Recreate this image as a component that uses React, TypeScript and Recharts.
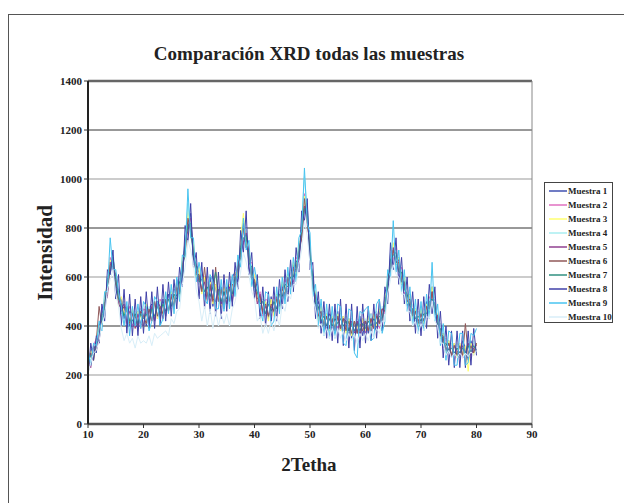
import { LineChart, Line, XAxis, YAxis, ReferenceLine } from 'recharts';

// ángulos 2θ (paso 0.5)
const angles = [
  10, 10.5, 11, 11.5, 12, 12.5, 13, 13.5, 14, 14.5,
  15, 15.5, 16, 16.5, 17, 17.5, 18, 18.5, 19, 19.5,
  20, 20.5, 21, 21.5, 22, 22.5, 23, 23.5, 24, 24.5,
  25, 25.5, 26, 26.5, 27, 27.5, 28, 28.5, 29, 29.5,
  30, 30.5, 31, 31.5, 32, 32.5, 33, 33.5, 34, 34.5,
  35, 35.5, 36, 36.5, 37, 37.5, 38, 38.5, 39, 39.5,
  40, 40.5, 41, 41.5, 42, 42.5, 43, 43.5, 44, 44.5,
  45, 45.5, 46, 46.5, 47, 47.5, 48, 48.5, 49, 49.5,
  50, 50.5, 51, 51.5, 52, 52.5, 53, 53.5, 54, 54.5,
  55, 55.5, 56, 56.5, 57, 57.5, 58, 58.5, 59, 59.5,
  60, 60.5, 61, 61.5, 62, 62.5, 63, 63.5, 64, 64.5,
  65, 65.5, 66, 66.5, 67, 67.5, 68, 68.5, 69, 69.5,
  70, 70.5, 71, 71.5, 72, 72.5, 73, 73.5, 74, 74.5,
  75, 75.5, 76, 76.5, 77, 77.5, 78, 78.5, 79, 79.5,
  80,
];

const muestra1 = [
  230, 300, 310, 290, 400, 450, 440, 600, 610, 690,
  560, 490, 510, 430, 470, 400, 460, 410, 390, 470,
  450, 400, 470, 490, 420, 500, 430, 510, 440, 530,
  470, 550, 520, 600, 580, 770, 800, 860, 680, 650,
  620, 540, 590, 510, 600, 480, 570, 500, 560, 470,
  560, 500, 600, 620, 580, 740, 820, 720, 700, 600,
  540, 580, 460, 510, 500, 430, 520, 450, 530, 480,
  570, 510, 610, 560, 650, 600, 720, 760, 880, 900,
  660, 610, 470, 500, 410, 460, 380, 450, 430, 380,
  460, 380, 440, 390, 430, 350, 420, 370, 440, 360,
  420, 370, 450, 400, 380, 460, 420, 520, 530, 690,
  720, 650, 680, 570, 590, 480, 530, 440, 470, 400,
  460, 410, 500, 450, 560, 450, 440, 350, 370, 290,
  340, 270, 330, 290, 270, 340, 310, 260, 340, 290,
  330,
];
const muestra2 = [
  260, 240, 320, 350, 330, 470, 500, 540, 680, 620,
  610, 540, 450, 500, 420, 480, 400, 450, 460, 390,
  470, 460, 400, 480, 500, 430, 510, 450, 520, 460,
  540, 480, 570, 530, 660, 690, 860, 780, 720, 600,
  570, 610, 520, 580, 500, 570, 490, 560, 480, 560,
  490, 570, 510, 560, 660, 680, 740, 790, 650, 660,
  600, 500, 540, 440, 510, 500, 440, 520, 460, 550,
  500, 590, 540, 620, 580, 680, 660, 820, 940, 810,
  740, 550, 530, 430, 480, 390, 450, 440, 370, 450,
  390, 450, 370, 440, 380, 430, 360, 420, 350, 430,
  370, 440, 380, 450, 460, 390, 470, 450, 590, 630,
  680, 720, 610, 640, 530, 560, 460, 490, 420, 460,
  400, 470, 430, 520, 490, 510, 400, 410, 310, 350,
  290, 330, 260, 320, 330, 270, 280, 340, 270, 330,
  290,
];
const muestra3 = [
  230, 300, 260, 350, 400, 400, 520, 570, 670, 650,
  600, 480, 520, 450, 470, 410, 470, 390, 460, 440,
  390, 490, 420, 470, 500, 430, 500, 440, 530, 460,
  540, 480, 580, 520, 680, 680, 870, 760, 740, 600,
  640, 530, 600, 500, 580, 490, 570, 510, 480, 560,
  500, 570, 520, 620, 600, 760, 860, 730, 720, 590,
  610, 500, 520, 450, 500, 420, 510, 440, 530, 470,
  580, 520, 610, 560, 660, 610, 740, 760, 930, 830,
  720, 560, 540, 420, 480, 400, 450, 380, 440, 390,
  450, 380, 440, 370, 430, 360, 420, 400, 370, 430,
  380, 440, 380, 450, 400, 470, 420, 500, 590, 640,
  740, 650, 680, 570, 600, 490, 530, 430, 470, 400,
  470, 410, 490, 460, 560, 450, 450, 350, 370, 290,
  340, 280, 330, 270, 330, 280, 320, 215, 330, 280,
  330,
];
const muestra4 = [
  280, 260, 300, 340, 380, 430, 450, 600, 610, 710,
  560, 550, 450, 500, 420, 470, 410, 460, 400, 470,
  460, 410, 480, 420, 490, 440, 500, 420, 520, 470,
  470, 550, 500, 600, 590, 760, 900, 770, 690, 650,
  570, 600, 530, 580, 510, 570, 490, 560, 500, 540,
  550, 500, 580, 550, 660, 670, 800, 800, 650, 650,
  540, 560, 470, 510, 440, 500, 450, 510, 460, 550,
  500, 580, 540, 630, 590, 670, 670, 830, 1010, 880,
  680, 600, 470, 490, 420, 460, 390, 440, 380, 450,
  400, 450, 380, 440, 370, 430, 360, 430, 410, 380,
  430, 380, 450, 390, 460, 400, 480, 460, 540, 700,
  680, 710, 610, 630, 540, 560, 460, 490, 420, 460,
  410, 470, 440, 510, 500, 520, 400, 410, 320, 350,
  290, 330, 280, 330, 270, 320, 280, 340, 290, 340,
  290,
];
const muestra5 = [
  250, 230, 320, 300, 350, 450, 490, 520, 660, 640,
  610, 490, 470, 490, 410, 460, 450, 390, 450, 410,
  400, 470, 410, 480, 420, 500, 480, 430, 510, 460,
  530, 470, 590, 540, 640, 730, 790, 840, 680, 620,
  600, 550, 580, 500, 560, 510, 500, 550, 490, 540,
  490, 560, 500, 580, 650, 700, 740, 780, 700, 590,
  580, 490, 530, 450, 480, 440, 480, 460, 520, 480,
  560, 520, 600, 560, 640, 620, 690, 760, 890, 850,
  700, 570, 520, 440, 460, 400, 440, 390, 430, 380,
  440, 390, 430, 420, 380, 420, 370, 420, 360, 410,
  420, 380, 430, 390, 450, 410, 470, 460, 580, 650,
  720, 660, 670, 580, 580, 500, 510, 450, 460, 420,
  450, 420, 480, 470, 540, 460, 440, 360, 350, 300,
  330, 280, 320, 300, 280, 320, 290, 330, 280, 310,
  320,
];
const muestra6 = [
  240, 290, 260, 340, 480, 400, 500, 540, 650, 660,
  560, 550, 460, 480, 470, 410, 450, 440, 400, 460,
  440, 410, 470, 420, 500, 440, 480, 450, 510, 460,
  520, 480, 560, 530, 650, 690, 840, 790, 710, 610,
  610, 540, 640, 520, 570, 500, 640, 500, 550, 490,
  550, 500, 570, 560, 640, 680, 800, 720, 700, 600,
  590, 510, 520, 460, 490, 440, 490, 460, 510, 490,
  550, 530, 600, 570, 630, 630, 710, 760, 920, 830,
  720, 550, 520, 440, 460, 400, 440, 390, 430, 390,
  440, 390, 430, 380, 420, 370, 420, 370, 410, 380,
  420, 380, 430, 390, 440, 410, 470, 460, 580, 630,
  710, 660, 660, 580, 580, 500, 510, 440, 460, 410,
  450, 420, 480, 470, 540, 460, 440, 360, 360, 300,
  330, 280, 320, 280, 320, 280, 410, 285, 320, 290,
  330,
];
const muestra7 = [
  260, 280, 280, 330, 340, 450, 470, 590, 620, 680,
  590, 510, 490, 440, 480, 420, 420, 450, 410, 450,
  430, 450, 420, 470, 440, 480, 450, 490, 460, 510,
  480, 530, 510, 580, 600, 740, 810, 820, 680, 650,
  580, 590, 540, 560, 520, 560, 620, 530, 500, 540,
  510, 550, 530, 600, 600, 720, 760, 770, 660, 640,
  560, 540, 490, 500, 450, 490, 460, 500, 470, 530,
  520, 570, 560, 600, 600, 660, 680, 800, 880, 870,
  690, 600, 490, 480, 420, 440, 400, 430, 400, 430,
  410, 430, 400, 420, 380, 410, 380, 410, 380, 410,
  390, 420, 400, 430, 410, 440, 430, 490, 560, 670,
  690, 700, 620, 620, 550, 530, 480, 470, 430, 440,
  420, 450, 450, 500, 510, 490, 400, 390, 330, 330,
  300, 310, 290, 310, 290, 310, 290, 320, 290, 320,
  300,
];
const muestra8 = [
  190, 330, 260, 360, 330, 490, 420, 630, 610, 710,
  510, 610, 400, 550, 370, 530, 360, 510, 360, 520,
  370, 540, 390, 540, 390, 560, 400, 570, 420, 580,
  440, 590, 470, 640, 560, 810, 740, 900, 640, 700,
  510, 660, 470, 640, 450, 630, 440, 620, 430, 610,
  460, 620, 480, 660, 550, 790, 700, 870, 610, 700,
  510, 610, 430, 560, 400, 540, 410, 560, 420, 590,
  470, 630, 500, 670, 540, 720, 620, 870, 830, 920,
  630, 660, 430, 540, 370, 500, 350, 490, 340, 490,
  330, 510, 320, 490, 310, 490, 300, 480, 310, 490,
  330, 480, 340, 490, 350, 510, 380, 560, 490, 740,
  630, 760, 570, 680, 490, 600, 420, 540, 370, 510,
  360, 520, 390, 570, 450, 560, 350, 460, 270, 400,
  240, 380, 230, 380, 230, 380, 230, 380, 240, 390,
  280,
];
const muestra9 = [
  300, 240, 330, 320, 420, 380, 540, 540, 760, 630,
  630, 540, 480, 400, 500, 360, 480, 400, 490, 390,
  500, 480, 380, 420, 520, 500, 400, 430, 540, 450,
  570, 450, 600, 500, 690, 680, 960, 760, 760, 580,
  660, 600, 510, 490, 610, 580, 470, 470, 590, 460,
  590, 470, 610, 520, 690, 640, 840, 710, 750, 560,
  640, 570, 470, 420, 540, 530, 400, 420, 560, 450,
  600, 490, 640, 530, 680, 580, 760, 790, 1045, 820,
  780, 520, 570, 400, 510, 360, 490, 350, 480, 350,
  490, 480, 330, 320, 470, 460, 290, 270, 460, 450,
  470, 480, 340, 350, 490, 510, 370, 420, 630, 600,
  830, 620, 710, 540, 630, 460, 560, 400, 510, 370,
  500, 380, 530, 430, 660, 420, 490, 320, 410, 260,
  380, 370, 240, 240, 370, 370, 240, 250, 370, 360,
  390,
];
const muestra10 = [
  210, 250, 290, 300, 340, 410, 440, 550, 590, 630,
  530, 480, 390, 340, 370, 330, 350, 310, 360, 330,
  340, 330, 360, 320, 370, 350, 360, 370, 380, 360,
  430, 410, 460, 470, 570, 640, 750, 710, 650, 550,
  500, 420, 480, 400, 470, 390, 460, 400, 450, 410,
  450, 400, 470, 500, 560, 620, 700, 660, 610, 540,
  510, 420, 440, 370, 410, 370, 420, 380, 440, 400,
  490, 460, 530, 510, 570, 570, 650, 710, 830, 770,
  650, 510, 470, 390, 410, 360, 390, 350, 390, 350,
  390, 350, 380, 340, 370, 340, 370, 330, 370, 340,
  370, 340, 380, 350, 390, 370, 420, 420, 530, 590,
  650, 610, 600, 530, 530, 460, 460, 400, 420, 370,
  410, 380, 440, 430, 500, 420, 400, 330, 330, 280,
  300, 270, 290, 270, 290, 270, 290, 275, 295, 280,
  300,
];

const seriesNames = [
  'Muestra 1', 'Muestra 2', 'Muestra 3', 'Muestra 4', 'Muestra 5',
  'Muestra 6', 'Muestra 7', 'Muestra 8', 'Muestra 9', 'Muestra 10',
];
const seriesValues = [
  muestra1, muestra2, muestra3, muestra4, muestra5,
  muestra6, muestra7, muestra8, muestra9, muestra10,
];
const seriesColors = [
  '#4050b0', '#e070c0', '#ffff70', '#a8eef0', '#904090',
  '#905858', '#309080', '#4040a8', '#48c4f0', '#d8eef8',
];

const xTicks = [10, 20, 30, 40, 50, 60, 70, 80, 90];
const yTicks = [0, 200, 400, 600, 800, 1000, 1200, 1400];
const gridLevels = [200, 400, 600, 800, 1000, 1200];

const data = angles.map((x, i) => {
  const row: Record<string, number> = { x };
  seriesNames.forEach((n, s) => { row[n] = seriesValues[s][i]; });
  return row;
});

const FONT = '"Liberation Serif", "DejaVu Serif", serif';

function LegendBox() {
  return (
    <div style={{
      position: 'absolute', left: 544, top: 182,
      width: 69, height: 141, boxSizing: 'border-box', border: '1px solid #444',
      background: '#fff', paddingTop: 1, fontFamily: FONT,
    }}>
      {seriesNames.map((n, i) => (
        <div key={n} style={{ display: 'flex', alignItems: 'center', height: 14 }}>
          <svg width={18} height={4} style={{ marginLeft: 4 }}>
            <line x1={0} y1={2} x2={18} y2={2} stroke={seriesColors[i]} strokeWidth={1.5} />
          </svg>
          <span style={{ fontSize: 9, fontWeight: 'bold', color: '#222', marginLeft: 1, whiteSpace: 'nowrap' }}>{n}</span>
        </div>
      ))}
    </div>
  );
}

export default function App() {
  return (
    <div style={{ position: 'relative', width: 624, height: 503, background: '#fff', overflow: 'hidden' }}>
      <style>{'body{margin:0}'}</style>
      {/* marco exterior */}
      <div style={{
        position: 'absolute', left: 8, top: 14, width: 640, height: 520,
        borderLeft: '1.5px solid #555', borderTop: '1.5px solid #555',
      }} />
      {/* título */}
      <div style={{
        position: 'absolute', left: 0, top: 43, width: 618, textAlign: 'center',
        fontFamily: FONT, fontWeight: 'bold', fontSize: 19, color: '#222',
      }}>
        Comparación XRD todas las muestras
      </div>
      {/* etiqueta eje Y */}
      <div style={{
        position: 'absolute', left: 45, top: 253, transform: 'translate(-50%, -50%) rotate(-90deg)',
        fontFamily: FONT, fontWeight: 'bold', fontSize: 21, color: '#222', whiteSpace: 'nowrap',
      }}>
        Intensidad
      </div>
      {/* etiqueta eje X */}
      <div style={{
        position: 'absolute', left: 0, top: 454, width: 618, textAlign: 'center',
        fontFamily: FONT, fontWeight: 'bold', fontSize: 19, color: '#222',
      }}>
        2Tetha
      </div>
      <div style={{ position: 'absolute', left: 0, top: 0 }}>
        <LineChart width={624} height={503} data={data} margin={{ top: 81, right: 92, bottom: 59, left: 0 }}>
          {gridLevels.map((g, i) => (
            <ReferenceLine key={g} y={g} stroke={i % 2 === 0 ? '#999' : '#333'} strokeWidth={1} />
          ))}
          <ReferenceLine y={1400} stroke="#666" strokeWidth={2.5} />
          <ReferenceLine x={90} stroke="#888" strokeWidth={1} />
          <XAxis
            dataKey="x" type="number" domain={[10, 90]} ticks={xTicks} height={20}
            axisLine={{ stroke: '#555', strokeWidth: 2.5 }} tickLine={{ stroke: '#333' }} tickSize={4}
            tick={{ fontFamily: FONT, fontWeight: 'bold', fontSize: 11, fill: '#222' }}
          />
          <YAxis
            type="number" domain={[0, 1400]} ticks={yTicks} width={88} interval={0}
            axisLine={{ stroke: '#222', strokeWidth: 2 }} tickLine={{ stroke: '#333' }} tickSize={4}
            tick={{ fontFamily: FONT, fontWeight: 'bold', fontSize: 11, fill: '#222' }}
          />
          {seriesNames.map((n, i) => (
            <Line
              key={n} dataKey={n} name={n} stroke={seriesColors[i]} strokeWidth={1}
              dot={false} isAnimationActive={false} type="linear"
            />
          ))}
        </LineChart>
      </div>
      <LegendBox />
    </div>
  );
}
